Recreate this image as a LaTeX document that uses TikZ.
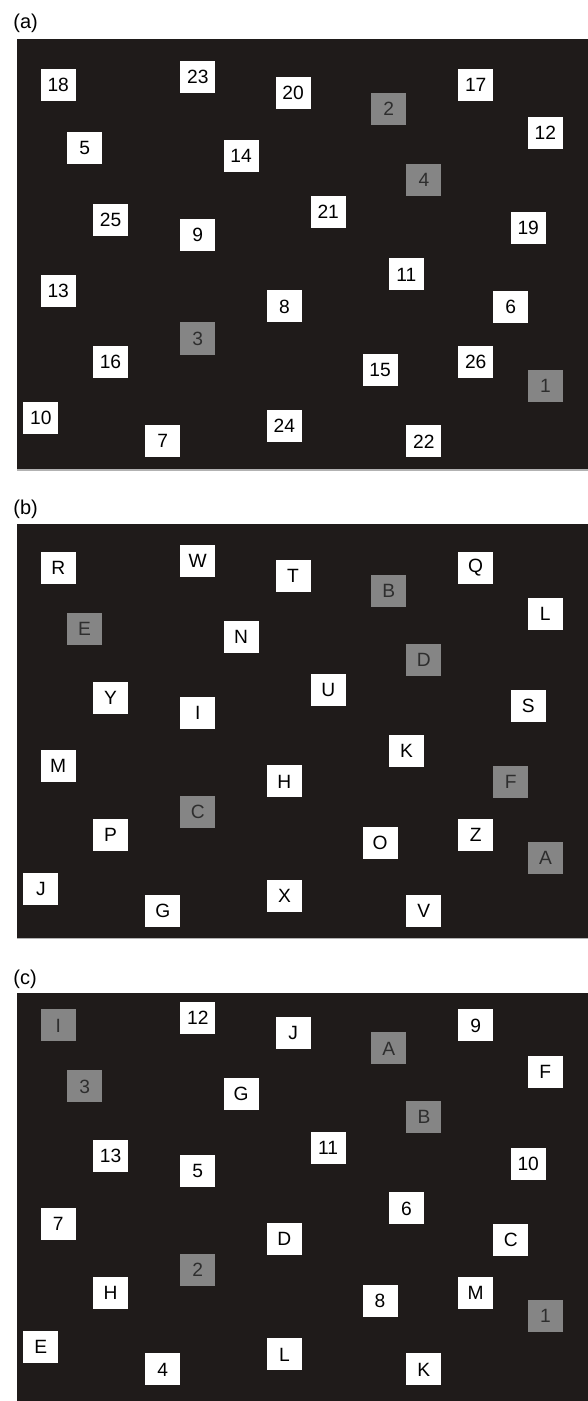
\documentclass[tikz,border=0pt]{standalone}
\usepackage{fontspec}
\usepackage{tikz}
\newfontfamily\cardfont{Liberation Sans}
\definecolor{panel}{HTML}{1F1B1A}
\definecolor{cardgray}{HTML}{858585}
\definecolor{cardtext}{HTML}{2E2E2E}
\tikzset{
  bg/.style={fill=panel,draw=none},
  rim/.style={gray!60,line width=0.6pt},
  card/.style={fill=white,minimum width=17.5pt,minimum height=16pt,inner sep=0pt,
    text=black,font=\cardfont\fontsize{9.6}{10}\selectfont},
  dimcard/.style={card,fill=cardgray,text=cardtext},
  tag/.style={anchor=west,inner sep=0pt,font=\cardfont\fontsize{10}{11}\selectfont},
}

\begin{document}
\begin{tikzpicture}[x=0.5pt,y=-0.5pt]
  \useasboundingbox[fill=white] (0,0) rectangle (588,1401);

  % three dark panels
  \fill[bg] (16.9,39.3) rectangle (588,470);
  \draw[rim] (16.9,470) -- (588,470);
  \fill[bg] (16.9,524) rectangle (588,938.3);
  \draw[rim] (16.9,938.3) -- (588,938.3);
  \fill[bg] (16.9,993.3) rectangle (588,1401);

  \node[tag] (lab-a) at (13,23) {(a)};
  \node[tag] (lab-b) at (13,509) {(b)};
  \node[tag] (lab-c) at (13,979) {(c)};

  % (a) numbered cards
  \foreach \x/\y/\t/\s in {58.2/85/18/card, 197.8/77.3/23/card, 293.1/93/20/card,
      388.7/108.8/2/dimcard, 475.7/85/17/card, 545.3/132.7/12/card,
      84.6/148.2/5/card, 241.1/156.3/14/card, 423.9/180.2/4/dimcard,
      328.2/211.7/21/card, 110.6/219.7/25/card, 197.8/235.3/9/card,
      528.2/228/19/card, 406.4/274.5/11/card, 58.2/290.7/13/card,
      284.4/306.5/8/card, 510.8/306.7/6/card, 197.7/338.5/3/dimcard,
      110.5/362/16/card, 380/370/15/card, 475.7/362/26/card,
      545.4/386/1/dimcard, 40.8/417.8/10/card, 162.8/441.3/7/card,
      284.4/425.7/24/card, 423.8/441.3/22/card}
    \node[\s] (a-\t) at (\x,\y) {\t};

  % (b) lettered cards, same layout
  \begin{scope}[shift={(0,486.1)},yscale=0.9635]
    \foreach \x/\y/\t/\s in {58.2/85/R/card, 197.8/77.3/W/card, 293.1/93/T/card,
        388.7/108.8/B/dimcard, 475.7/85/Q/card, 545.3/132.7/L/card,
        84.6/148.2/E/dimcard, 241.1/156.3/N/card, 423.9/180.2/D/dimcard,
        328.2/211.7/U/card, 110.6/219.7/Y/card, 197.8/235.3/I/card,
        528.2/228/S/card, 406.4/274.5/K/card, 58.2/290.7/M/card,
        284.4/306.5/H/card, 510.8/306.7/F/dimcard, 197.7/338.5/C/dimcard,
        110.5/362/P/card, 380/370/O/card, 475.7/362/Z/card,
        545.4/386/A/dimcard, 40.8/417.8/J/card, 162.8/441.3/G/card,
        284.4/425.7/X/card, 423.8/441.3/V/card}
      \node[\s] (b-\t) at (\x,\y) {\t};
  \end{scope}

  % (c) mixed cards
  \begin{scope}[shift={(0,943.4)},yscale=0.9655]
    \foreach \x/\y/\t/\s in {58.2/85/I/dimcard, 197.8/77.3/12/card, 293.1/93/J/card,
        388.7/108.8/A/dimcard, 475.7/85/9/card, 545.3/132.7/F/card,
        84.6/148.2/3/dimcard, 241.1/156.3/G/card, 423.9/180.2/B/dimcard,
        328.2/211.7/11/card, 110.6/219.7/13/card, 197.8/235.3/5/card,
        528.2/228/10/card, 406.4/274.5/6/card, 58.2/290.7/7/card,
        284.4/306.5/D/card, 510.8/306.7/C/card, 197.7/338.5/2/dimcard,
        110.5/362/H/card, 380/370/8/card, 475.7/362/M/card,
        545.4/386/1/dimcard, 40.8/417.8/E/card, 162.8/441.3/4/card,
        284.4/425.7/L/card, 423.8/441.3/K/card}
      \node[\s] (c-\t) at (\x,\y) {\t};
  \end{scope}
\end{tikzpicture}
\end{document}
